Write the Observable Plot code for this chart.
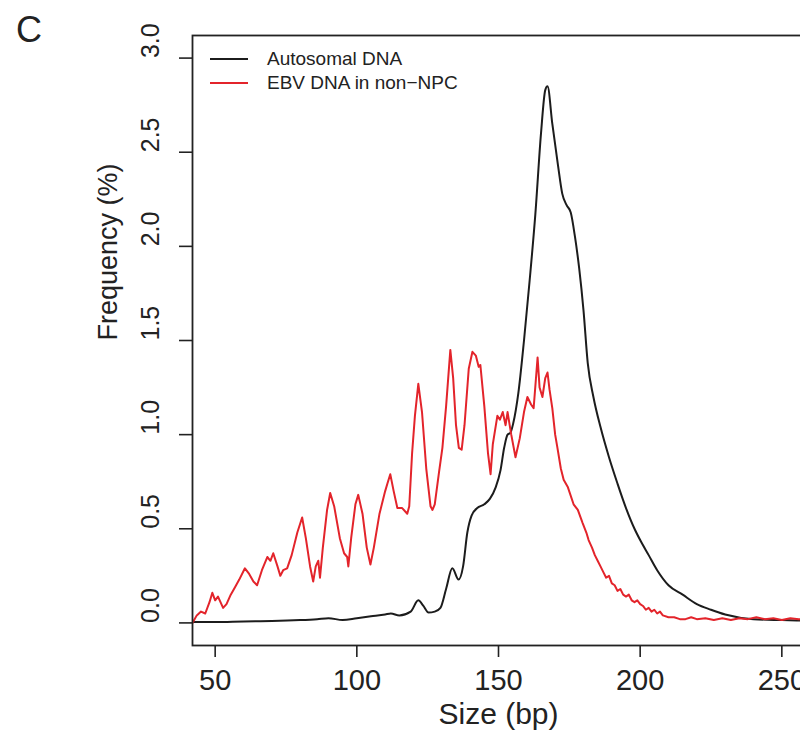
<!DOCTYPE html>
<html>
<head>
<meta charset="utf-8">
<script src="https://cdn.jsdelivr.net/npm/d3@7"></script>
<script src="https://cdn.jsdelivr.net/npm/@observablehq/plot@0.6"></script>
<style>
  html, body { margin: 0; padding: 0; background: #fff; overflow: hidden; }
  #wrap { position: relative; width: 800px; height: 745px; overflow: hidden; font-family: "Liberation Sans", Arial, sans-serif; color: #222; }
  #panel { position: absolute; left: 16px; top: 8px; font-size: 36px; line-height: 44px; }
  .leg { position: absolute; left: 210px; font-size: 19px; line-height: 20px; display: flex; align-items: center; }
  .leg span.sw { display: inline-block; width: 38px; height: 2px; margin-right: 19px; }
  #chart { position: absolute; left: 0; top: 0; width: 806px; }
  #chart svg { max-width: none !important; width: 806px; height: 745px; }
</style>
</head>
<body>
<div id="wrap">
  <div id="chart"></div>
  <div id="panel">C</div>
  <div id="legend"></div>
</div>
<script>
// Autosomal DNA size profile
const autoSize = [42, 50, 60, 70, 80, 86, 90, 95, 100, 105, 110, 112, 115, 119, 121.7, 123.5, 125.3, 127.5, 129.5, 131.5,
  133.7, 135.9, 137.5, 139, 140.5, 142.5, 145, 147, 149, 150.7, 152, 153.2, 154.2, 155.2, 157, 159, 161, 163, 165, 166.5,
  167.3, 169, 171, 172.5, 174, 175.5, 177, 178.5, 180, 181.5, 183.5, 186, 189, 192, 195, 198, 200, 203, 206, 210,
  215, 220, 225, 230, 240, 250, 258];
const autoFreq = [0.005, 0.005, 0.008, 0.01, 0.015, 0.02, 0.025, 0.015, 0.025, 0.035, 0.045, 0.05, 0.04, 0.06, 0.12, 0.09, 0.055, 0.06, 0.08, 0.18,
  0.29, 0.23, 0.30, 0.48, 0.57, 0.61, 0.63, 0.66, 0.72, 0.81, 0.93, 1.0, 1.01, 1.06, 1.22, 1.5, 1.82, 2.17, 2.6, 2.83,
  2.85, 2.65, 2.43, 2.28, 2.22, 2.18, 2.05, 1.88, 1.66, 1.38, 1.2, 1.04, 0.88, 0.74, 0.61, 0.5, 0.44, 0.36, 0.28, 0.2,
  0.15, 0.10, 0.07, 0.045, 0.02, 0.015, 0.012];

// EBV DNA in non-NPC size profile
const ebvSize = [42, 43.5, 45, 46.5, 48, 49, 50, 51, 52.8, 54, 55.5, 57, 58.5, 60.5, 62, 63.5, 64.8, 66.5, 68.4, 69.5,
  70.5, 72, 73, 74, 75.4, 77, 79, 80.7, 82, 83.5, 84.6, 85.5, 86.4, 87, 88, 89.5, 90.6, 92, 94, 95.5,
  96.6, 97, 98, 99.5, 100.5, 102, 103.5, 104.8, 106, 108, 110, 110.8, 111.8, 113, 114.3, 116, 117.8, 118.5, 119.5, 120.5,
  121.7, 123, 124.5, 126, 126.7, 127.5, 129, 130.2, 131.5, 133, 134, 135, 136, 137, 138, 139.5, 140.8, 142, 143, 143.6,
  145, 146.3, 147.2, 148, 149.6, 150.5, 151.5, 152.5, 153.2, 154.5, 156, 157.5, 159, 160.2, 161.5, 162.4, 163.8, 164.5, 165.5, 166.5,
  167.3, 168, 169, 170, 170.8, 172, 173, 174.5, 176.5, 178, 179.7, 181, 181.8, 183, 184, 185, 186, 187, 188, 189,
  190, 191, 192, 193, 194, 195, 196, 197, 198, 199, 200, 201, 202, 203, 204, 205, 206, 207, 208, 210,
  212, 214, 216, 218, 220, 223, 226, 229, 232, 235, 238, 241, 244, 247, 250, 253, 256, 258];
const ebvFreq = [0.0, 0.04, 0.06, 0.05, 0.11, 0.16, 0.12, 0.14, 0.08, 0.10, 0.15, 0.19, 0.23, 0.29, 0.26, 0.22, 0.20, 0.28, 0.35, 0.33,
  0.37, 0.30, 0.25, 0.28, 0.29, 0.36, 0.48, 0.56, 0.45, 0.30, 0.22, 0.30, 0.33, 0.24, 0.40, 0.60, 0.69, 0.62, 0.45, 0.37,
  0.35, 0.30, 0.45, 0.63, 0.68, 0.58, 0.40, 0.31, 0.40, 0.58, 0.70, 0.74, 0.79, 0.70, 0.61, 0.61, 0.58, 0.62, 0.90, 1.10,
  1.27, 1.12, 0.82, 0.62, 0.60, 0.63, 0.80, 0.93, 1.15, 1.45, 1.30, 1.05, 0.93, 0.92, 1.05, 1.35, 1.44, 1.42, 1.36, 1.37,
  1.15, 0.90, 0.79, 0.95, 1.10, 1.08, 1.12, 1.05, 1.12, 1.00, 0.88, 0.98, 1.12, 1.20, 1.16, 1.14, 1.41, 1.25, 1.20, 1.30,
  1.33, 1.24, 1.14, 1.00, 0.93, 0.82, 0.76, 0.72, 0.63, 0.60, 0.53, 0.48, 0.44, 0.40, 0.36, 0.33, 0.30, 0.27, 0.24, 0.25,
  0.21, 0.20, 0.17, 0.18, 0.15, 0.14, 0.15, 0.12, 0.11, 0.12, 0.10, 0.09, 0.07, 0.08, 0.06, 0.07, 0.05, 0.06, 0.04, 0.03,
  0.03, 0.02, 0.02, 0.03, 0.02, 0.025, 0.015, 0.025, 0.015, 0.025, 0.02, 0.03, 0.02, 0.025, 0.015, 0.025, 0.02, 0.02];

const xTicks = [50, 100, 150, 200, 250];
const yTicks = [0, 0.5, 1, 1.5, 2, 2.5, 3];
const seriesNames = ["Autosomal DNA", "EBV DNA in non\u2212NPC"];
const seriesColors = ["#1c1c1c", "#e3242b"];

const auto = autoSize.map((s, i) => ({size: s, freq: autoFreq[i]}));
const ebv = ebvSize.map((s, i) => ({size: s, freq: ebvFreq[i]}));

const chart = Plot.plot({
  width: 806,
  height: 745,
  marginLeft: 192,
  marginRight: 2,
  marginTop: 35,
  marginBottom: 100,
  x: {domain: [42, 258]},
  y: {domain: [-0.12, 3.12]},
  style: {fontFamily: "'Liberation Sans', Arial, sans-serif", background: "white", color: "#222", maxWidth: "none"},
  marks: [
    Plot.axisX({ticks: xTicks, tickSize: 12, tickPadding: 12, fontSize: 29, label: null, strokeWidth: 1.6, tickFormat: d => String(d)}),
    Plot.axisY({ticks: yTicks, tickSize: 13, tickFormat: () => "", label: null, strokeWidth: 1.6}),
    Plot.text(yTicks, {y: d => d, text: d => d.toFixed(1), frameAnchor: "left", dx: -42, rotate: -90, fontSize: 25, fill: "#222"}),
    Plot.text(["Size (bp)"], {frameAnchor: "bottom", dy: 78, fontSize: 30, fill: "#222"}),
    Plot.text(["Frequency (%)"], {frameAnchor: "left", dx: -84, rotate: -90, fontSize: 27, fill: "#222"}),
    Plot.line(auto, {x: "size", y: "freq", stroke: seriesColors[0], strokeWidth: 2, curve: "monotone-x", clip: true}),
    Plot.line(ebv, {x: "size", y: "freq", stroke: seriesColors[1], strokeWidth: 2, clip: true}),
    Plot.frame({stroke: "#222", strokeWidth: 1.8})
  ]
});
document.getElementById("chart").appendChild(chart);

const legend = document.getElementById("legend");
seriesNames.forEach((name, i) => {
  const row = document.createElement("div");
  row.className = "leg";
  row.style.top = (49 + i * 24) + "px";
  const sw = document.createElement("span");
  sw.className = "sw";
  sw.style.background = seriesColors[i];
  row.appendChild(sw);
  row.appendChild(document.createTextNode(name));
  legend.appendChild(row);
});
</script>
</body>
</html>
